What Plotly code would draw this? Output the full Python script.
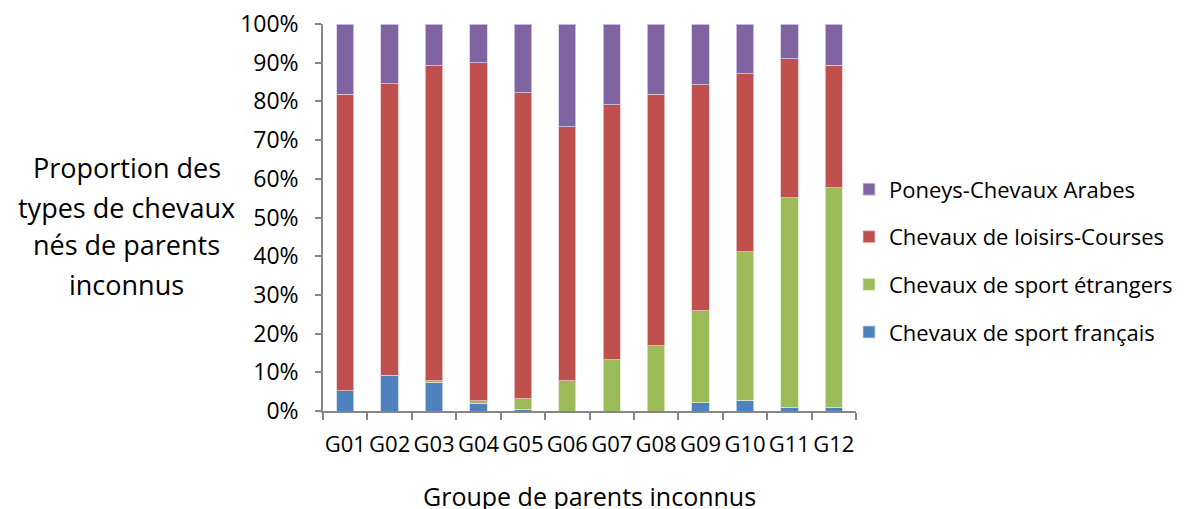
import plotly.graph_objects as go

groups = ["G01", "G02", "G03", "G04", "G05", "G06", "G07", "G08", "G09", "G10", "G11", "G12"]
sport_francais = [5.2, 9.2, 7.3, 1.9, 0.3, 0.0, 0.0, 0.0, 2.1, 2.8, 0.9, 0.9]
sport_etrangers = [0.0, 0.0, 0.5, 0.7, 2.9, 7.8, 13.2, 16.8, 23.8, 38.4, 54.2, 56.8]
loisirs_courses = [76.7, 75.4, 81.4, 87.4, 79.0, 65.6, 66.0, 65.0, 58.4, 45.9, 35.9, 31.7]
poneys_arabes = [18.1, 15.4, 10.8, 10.0, 17.8, 26.6, 20.8, 18.2, 15.7, 12.9, 9.0, 10.6]
y_ticks = [0, 10, 20, 30, 40, 50, 60, 70, 80, 90, 100]
y_ticklabels = ["0%", "10%", "20%", "30%", "40%", "50%", "60%", "70%", "80%", "90%", "100%"]
y_title_lines = ["Proportion des", "types de chevaux", "nés de parents", "inconnus"]
x_title = "Groupe de parents inconnus"

series = [
    ("Chevaux de sport français", sport_francais, "#4F81BD", "rgba(200,215,235,0.8)", 4),
    ("Chevaux de sport étrangers", sport_etrangers, "#9BBB59", "rgba(225,235,205,0.8)", 3),
    ("Chevaux de loisirs-Courses", loisirs_courses, "#C0504D", "rgba(235,200,200,0.8)", 2),
    ("Poneys-Chevaux Arabes", poneys_arabes, "#8064A2", "rgba(215,205,230,0.8)", 1),
]

FONT = "Open Sans"
fig = go.Figure()
for i, (name, vals, col, edge, rank) in enumerate(series):
    fig.add_trace(go.Bar(
        x=groups, y=vals, name=name, legendgroup=f"g{i}", legendrank=rank,
        marker=dict(color=col, line=dict(color=edge, width=1)),
    ))

annotations = []
title_ys = [0.628, 0.527, 0.429, 0.328]
for txt, yy in zip(y_title_lines, title_ys):
    annotations.append(dict(text=txt, xref="paper", yref="paper", x=-0.368, y=yy,
                            xanchor="center", yanchor="middle", showarrow=False,
                            font=dict(family=FONT, size=27)))
annotations.append(dict(text=x_title, xref="paper", yref="paper", x=0.5, y=-0.22,
                        xanchor="center", yanchor="middle", showarrow=False,
                        font=dict(family=FONT, size=25)))

fig.update_layout(
    barmode="stack",
    bargap=0.61,
    width=1184, height=501,
    margin=dict(l=315, r=336, t=16, b=98, autoexpand=False),
    plot_bgcolor="white", paper_bgcolor="white",
    font=dict(family=FONT, color="#000000", size=22),
    showlegend=True,
    legend=dict(
        x=1.0 - 7 / 533, xanchor="left", y=0.388, yanchor="middle",
        traceorder="grouped", tracegroupgap=16,
        font=dict(family=FONT, size=22, color="#000000"),
        bgcolor="rgba(0,0,0,0)",
    ),
    xaxis=dict(
        type="category", automargin=False, tickangle=0,
        showline=True, linecolor="#868686", linewidth=1.5,
        ticks="outside", tickson="boundaries", ticklen=7, tickcolor="#868686", tickwidth=1.5,
        tickfont=dict(family=FONT, size=22), ticklabelstandoff=13,
        showgrid=False,
    ),
    yaxis=dict(
        range=[0, 100], tickvals=y_ticks, ticktext=y_ticklabels, automargin=False,
        showline=True, linecolor="#868686", linewidth=1.5,
        ticks="outside", ticklen=6, tickcolor="#868686", tickwidth=1.5,
        tickfont=dict(family=FONT, size=23), ticklabelstandoff=12,
        ticklabeloverflow="allow",
        showgrid=False, zeroline=False,
    ),
    annotations=annotations,
)

fig.write_html("out.html")
